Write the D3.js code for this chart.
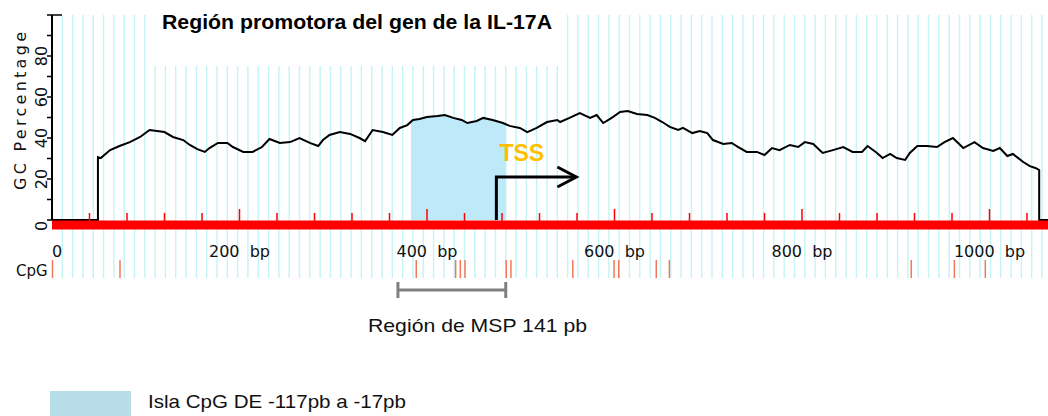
<!DOCTYPE html>
<html lang="es">
<head>
<meta charset="utf-8">
<title>Región promotora IL-17A</title>
<script src="https://cdn.jsdelivr.net/npm/d3@7"></script>
<style>
  body { margin: 0; background: #fff; }
  text { font-family: "DejaVu Sans", sans-serif; }
  .arial { font-family: "Liberation Sans", Arial, sans-serif; }
</style>
</head>
<body>
<svg id="chart" width="1048" height="416"></svg>
<script>
// GC content (position in bp, GC %)
var gcBp = [0, 49, 49, 52, 62, 72, 83, 94, 104, 112, 120, 129, 140, 147, 155, 163, 168, 177, 187, 193,
  204, 214, 224, 232, 243, 254, 264, 275, 284, 289, 296, 307, 318, 328, 334, 342, 353, 363, 371, 379,
  385, 392, 400, 411, 419, 428, 437, 443, 453, 460, 470, 481, 488, 499, 507, 517, 528, 539, 542, 552,
  563, 574, 581, 588, 597, 606, 614, 624, 635, 643, 651, 659, 668, 673, 683, 691, 699, 705, 716, 725,
  732, 741, 752, 760, 768, 776, 787, 796, 803, 812, 822, 833, 844, 854, 864, 870, 880, 886, 894, 901,
  910, 915, 923, 933, 944, 952, 961, 972, 984, 993, 1004, 1011, 1019, 1025, 1036, 1043, 1049, 1053, 1053, 1064];
var gcPct = [0, 0, 30.7, 30.2, 34.1, 36.1, 38.0, 40.5, 43.9, 43.4, 42.9, 40.5, 39.0, 36.6, 34.6, 33.2, 35.1, 37.6, 37.6, 35.6,
  33.2, 33.2, 35.6, 39.5, 37.6, 38.0, 40.0, 37.6, 36.1, 39.0, 41.5, 42.9, 42.0, 40.0, 38.5, 43.9, 42.9, 41.5, 44.9, 46.3,
  48.8, 49.3, 50.2, 50.7, 51.2, 49.8, 48.8, 47.3, 48.3, 49.8, 48.8, 47.3, 45.9, 44.9, 42.9, 44.9, 47.8, 48.8, 47.8, 49.8,
  52.2, 49.8, 51.2, 47.3, 49.8, 52.7, 53.2, 51.7, 51.2, 49.8, 47.8, 45.4, 43.9, 44.9, 42.4, 43.4, 42.4, 39.0, 37.1, 37.6,
  35.6, 33.2, 33.2, 31.7, 35.1, 34.1, 36.6, 35.6, 38.0, 37.1, 32.7, 34.1, 35.6, 33.2, 33.2, 36.1, 32.7, 30.2, 32.2, 30.2,
  29.3, 32.7, 36.1, 36.1, 35.6, 38.0, 40.0, 35.1, 38.0, 35.1, 33.7, 35.1, 31.2, 32.2, 28.3, 26.3, 25.4, 24.4, 0, 0];

var cpgSites = [0, 72, 388, 430, 435, 440, 484, 489, 555, 599, 604, 644, 658, 916, 962, 995];
var xLabels = [0, 200, 400, 600, 800, 1000];
var yLabels = [0, 20, 40, 60, 80];
var seqLength = 1064;
var islandRange = [383, 484];
var mspRange = [369, 484];
var tssBp = 474;

var svg = d3.select("#chart");
var x = d3.scaleLinear().domain([0, 1000]).range([52, 989.5]);
var y = d3.scaleLinear().domain([0, 100]).range([220, 15]);

var pts = gcBp.map(function (b, i) { return [b, gcPct[i]]; });

// vertical cyan grid
svg.append("g").selectAll("line")
  .data(d3.range(11, seqLength, 11))
  .enter().append("line")
  .attr("x1", function (d) { return x(d); }).attr("x2", function (d) { return x(d); })
  .attr("y1", y(100)).attr("y2", 278)
  .attr("stroke", "#c4f4f6").attr("stroke-width", 1.4);

// white box behind title
svg.append("rect").attr("x", 150).attr("y", 0).attr("width", 412).attr("height", 66).attr("fill", "#fff");

// CpG island area (under the curve)
function gcAt(b) {
  for (var i = 1; i < pts.length; i++) {
    if (pts[i][0] >= b && pts[i - 1][0] <= b && pts[i][0] > pts[i - 1][0]) {
      var t = (b - pts[i - 1][0]) / (pts[i][0] - pts[i - 1][0]);
      return pts[i - 1][1] + t * (pts[i][1] - pts[i - 1][1]);
    }
  }
  return 0;
}
var islandPts = [[islandRange[0], gcAt(islandRange[0])]]
  .concat(pts.filter(function (p) { return p[0] > islandRange[0] && p[0] < islandRange[1]; }))
  .concat([[islandRange[1], gcAt(islandRange[1])]]);
svg.append("path")
  .datum(islandPts)
  .attr("fill", "#bee9f8")
  .attr("d", d3.area().x(function (d) { return x(d[0]); }).y0(y(0)).y1(function (d) { return y(d[1]); }));

// GC line
svg.append("path")
  .datum(pts)
  .attr("fill", "none").attr("stroke", "#000").attr("stroke-width", 2)
  .attr("d", d3.line().x(function (d) { return x(d[0]); }).y(function (d) { return y(d[1]); }));

// y axis
svg.append("line").attr("x1", 52).attr("x2", 52).attr("y1", y(100)).attr("y2", y(0))
  .attr("stroke", "#000").attr("stroke-width", 2);
svg.append("g").selectAll("line").data(d3.range(0, 101, 10)).enter().append("line")
  .attr("x1", 47).attr("x2", function (d) { return d === 100 ? 62 : 52; })
  .attr("y1", function (d) { return y(d); }).attr("y2", function (d) { return y(d); })
  .attr("stroke", "#000").attr("stroke-width", 1.5);
svg.append("g").selectAll("text").data(yLabels).enter().append("text")
  .attr("transform", function (d) { return "translate(47," + (y(d) + (d === 0 ? 6 : 0)) + ") rotate(-90)"; })
  .attr("text-anchor", "middle").attr("font-size", 16).attr("fill", "#111")
  .text(function (d) { return d; });
svg.append("text").attr("transform", "translate(26,111) rotate(-90)")
  .attr("text-anchor", "middle").attr("font-size", 16).attr("fill", "#111")
  .attr("textLength", 158).attr("lengthAdjust", "spacing")
  .text("GC Percentage");

// red sequence bar with ticks
svg.append("rect").attr("x", x(0)).attr("y", 220.5).attr("width", x(seqLength) - x(0)).attr("height", 9)
  .attr("fill", "#ff0000");
svg.append("g").selectAll("line").data(d3.range(40, seqLength, 40)).enter().append("line")
  .attr("x1", function (d) { return x(d); }).attr("x2", function (d) { return x(d); })
  .attr("y1", function (d) { return d % 200 === 0 ? 209 : 213; }).attr("y2", 221)
  .attr("stroke", "#ff0000").attr("stroke-width", 1.5);

// x labels
svg.append("g").selectAll("text").data(xLabels).enter().append("text")
  .attr("x", function (d) { return d === 0 ? x(d) + 5 : x(d); })
  .attr("y", 257).attr("text-anchor", "middle").attr("font-size", 16).attr("fill", "#111")
  .style("white-space", "pre")
  .text(function (d) { return d === 0 ? "0" : d + "  bp"; });

// CpG row
svg.append("text").attr("x", 16).attr("y", 276).attr("font-size", 15).attr("fill", "#111").text("CpG");
svg.append("g").selectAll("line").data(cpgSites).enter().append("line")
  .attr("x1", function (d) { return x(d) + 0.5; }).attr("x2", function (d) { return x(d) + 0.5; })
  .attr("y1", 260).attr("y2", 278)
  .attr("stroke", "#f2785a").attr("stroke-width", 1.5);

// TSS arrow
var tx = x(tssBp);
svg.append("path")
  .attr("d", "M" + tx + "," + y(0) + "V177H" + (tx + 80))
  .attr("fill", "none").attr("stroke", "#000").attr("stroke-width", 3);
svg.append("path")
  .attr("d", "M" + (tx + 61) + ",167L" + (tx + 80) + ",177L" + (tx + 61) + ",187")
  .attr("fill", "none").attr("stroke", "#000").attr("stroke-width", 3);
svg.append("text").attr("class", "arial").attr("x", tx + 3).attr("y", 161)
  .attr("font-size", 23).attr("font-weight", "bold").attr("fill", "#ffc000").text("TSS");

// MSP bracket
var m0 = x(mspRange[0]), m1 = x(mspRange[1]);
svg.append("path")
  .attr("d", "M" + m0 + ",282V298M" + m0 + ",290H" + m1 + "M" + m1 + ",282V298")
  .attr("fill", "none").attr("stroke", "#808080").attr("stroke-width", 3);
svg.append("text").attr("class", "arial").attr("x", 368).attr("y", 332)
  .attr("font-size", 18.5).attr("fill", "#111")
  .attr("textLength", 219).attr("lengthAdjust", "spacingAndGlyphs")
  .text("Región de MSP 141 pb");

// title
svg.append("text").attr("class", "arial").attr("x", 162).attr("y", 29)
  .attr("font-size", 20).attr("font-weight", "bold").attr("fill", "#000")
  .attr("textLength", 390).attr("lengthAdjust", "spacingAndGlyphs")
  .text("Región promotora del gen de la IL-17A");

// legend
svg.append("rect").attr("x", 50).attr("y", 391).attr("width", 81).attr("height", 25).attr("fill", "#b7dde8");
svg.append("text").attr("class", "arial").attr("x", 148).attr("y", 408)
  .attr("font-size", 18.5).attr("fill", "#111")
  .attr("textLength", 258).attr("lengthAdjust", "spacingAndGlyphs")
  .text("Isla CpG DE -117pb a -17pb");
</script>
</body>
</html>
